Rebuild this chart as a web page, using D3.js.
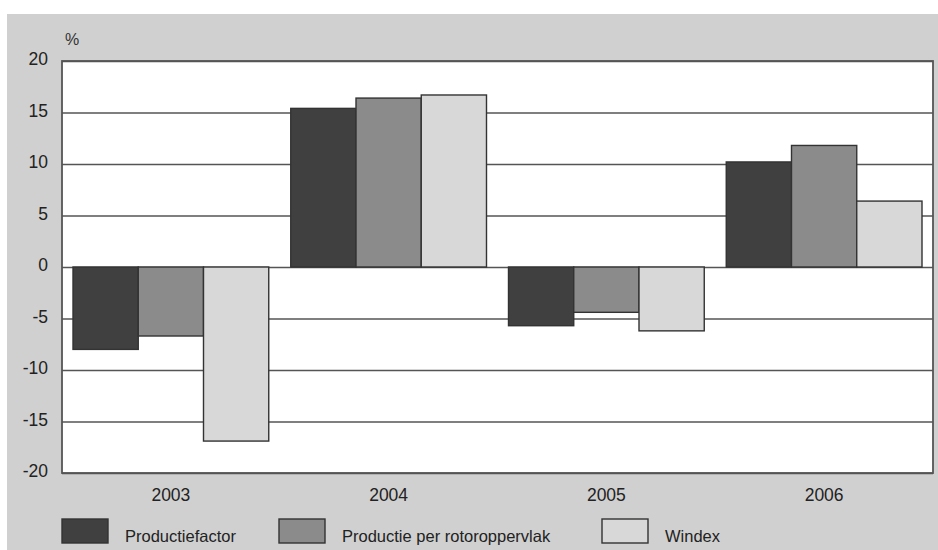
<!DOCTYPE html>
<html>
<head>
<meta charset="utf-8">
<script src="https://cdn.jsdelivr.net/npm/d3@7"></script>
<style>
  html, body { margin: 0; padding: 0; background: #ffffff; }
  svg { display: block; font-family: "Liberation Sans", Arial, Helvetica, sans-serif; }
</style>
</head>
<body>
<svg id="chart" width="938" height="550"></svg>
<script>
// Year-on-year change (%) of wind production indicators
const years = ["2003", "2004", "2005", "2006"];
const seriesNames = ["Productiefactor", "Productie per rotoroppervlak", "Windex"];
const productiefactor = [-8.0, 15.4, -5.7, 10.2];
const productiePerRotoroppervlak = [-6.7, 16.4, -4.4, 11.8];
const windex = [-16.9, 16.7, -6.2, 6.4];
const yTicks = [-20, -15, -10, -5, 0, 5, 10, 15, 20];
const unitLabel = "%";

const seriesValues = [productiefactor, productiePerRotoroppervlak, windex];
const fills = ["#404040", "#8b8b8b", "#d8d8d8"];

const svg = d3.select("#chart");
const W = 938, H = 550;
const plot = { left: 62, right: 933, top: 61, bottom: 473 };
// left edge of each legend entry (swatch), text follows the swatch
const legendX = [62, 279, 602];

// grey panel behind the chart
svg.append("rect")
  .attr("x", 7).attr("y", 14)
  .attr("width", W - 7).attr("height", H - 14)
  .attr("fill", "#d0d0d0");

const x0 = d3.scaleBand().domain(years).range([plot.left, plot.right]).padding(0);
const groupPad = 11;
const x1 = d3.scaleBand().domain(seriesNames)
  .range([groupPad, x0.bandwidth() - groupPad]).padding(0);
const y = d3.scaleLinear().domain([-20, 20]).range([plot.bottom, plot.top]);

// white plotting area
svg.append("rect")
  .attr("x", plot.left).attr("y", plot.top)
  .attr("width", plot.right - plot.left).attr("height", plot.bottom - plot.top)
  .attr("fill", "#ffffff");

// horizontal gridlines + value labels (plain hyphen for negatives)
const yAxis = svg.append("g")
  .attr("transform", `translate(${plot.left},0)`)
  .call(d3.axisLeft(y).tickValues(yTicks)
    .tickSize(-(plot.right - plot.left)).tickPadding(14).tickFormat(d => String(d)));
yAxis.select(".domain").remove();
yAxis.selectAll(".tick line").attr("stroke", "#555").attr("stroke-width", 1.6);
yAxis.selectAll(".tick text")
  .attr("fill", "#222").attr("font-size", 17.5).attr("dy", "0.2em")
  .style("font-family", "Liberation Sans, Arial, sans-serif");

// bars
const groups = svg.append("g").selectAll("g")
  .data(years)
  .join("g")
  .attr("transform", d => `translate(${x0(d)},0)`);

groups.selectAll("rect")
  .data((yr, i) => seriesNames.map((s, k) => ({ s, k, v: seriesValues[k][i] })))
  .join("rect")
  .attr("x", d => x1(d.s))
  .attr("width", x1.bandwidth())
  .attr("y", d => y(Math.max(0, d.v)))
  .attr("height", d => Math.abs(y(d.v) - y(0)))
  .attr("fill", d => fills[d.k])
  .attr("stroke", "#333")
  .attr("stroke-width", 1.4);

// plot frame
svg.append("rect")
  .attr("x", plot.left).attr("y", plot.top)
  .attr("width", plot.right - plot.left).attr("height", plot.bottom - plot.top)
  .attr("fill", "none").attr("stroke", "#555").attr("stroke-width", 1.8);

// category labels
const xAxis = svg.append("g")
  .attr("transform", `translate(0,${plot.bottom})`)
  .call(d3.axisBottom(x0).tickSize(0).tickPadding(16));
xAxis.select(".domain").remove();
xAxis.selectAll(".tick text")
  .attr("fill", "#222").attr("font-size", 17.5)
  .style("font-family", "Liberation Sans, Arial, sans-serif");

// unit label
svg.append("text")
  .attr("x", 65).attr("y", 45)
  .attr("font-size", 16).attr("fill", "#333")
  .text(unitLabel);

// legend
const legend = svg.append("g");
seriesNames.forEach((name, k) => {
  const lx = legendX[k];
  legend.append("rect")
    .attr("x", lx).attr("y", 519)
    .attr("width", 46).attr("height", 24)
    .attr("fill", fills[k]).attr("stroke", "#333").attr("stroke-width", 1.4);
  legend.append("text")
    .attr("x", lx + 63).attr("y", 541.5)
    .attr("font-size", 16.5).attr("fill", "#222")
    .text(name);
});
</script>
</body>
</html>
